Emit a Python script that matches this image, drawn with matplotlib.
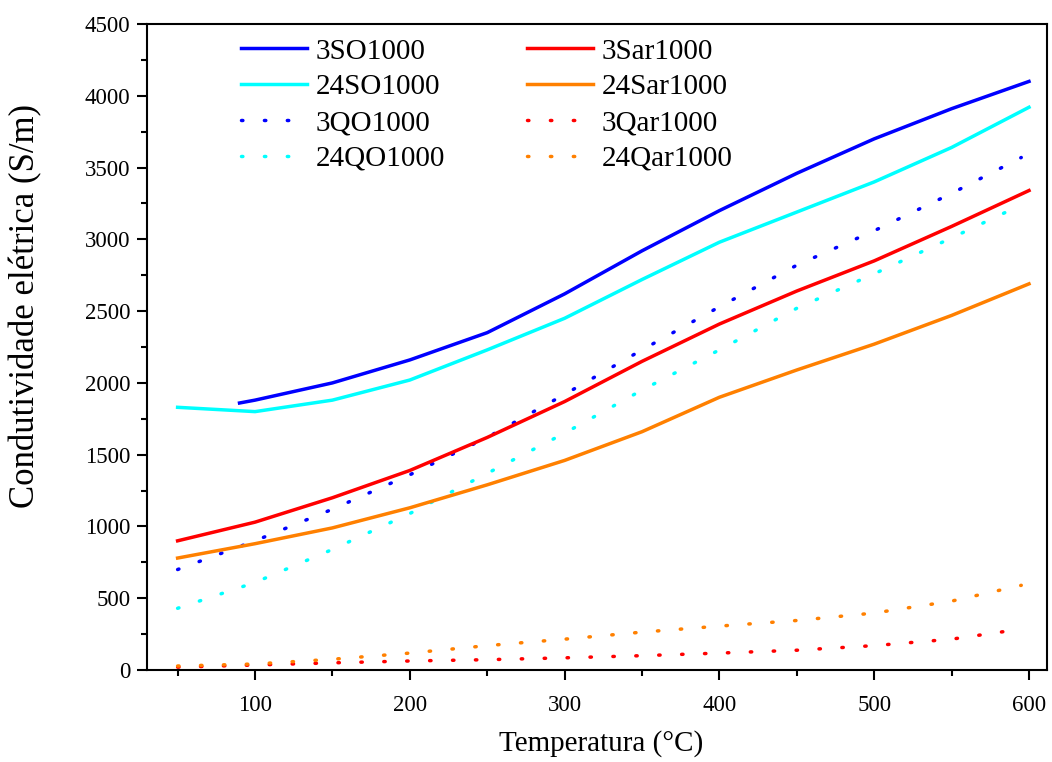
import numpy as np
import matplotlib.pyplot as plt
from matplotlib.ticker import MultipleLocator

plt.rcParams['font.family'] = ['Liberation Serif', 'DejaVu Serif']

# temperatura (°C)
t = [50, 100, 150, 200, 250, 300, 350, 400, 450, 500, 550, 600]
t_q = [50, 100, 150, 200, 250, 300, 350, 400, 450, 500, 550, 595]

t_3so = [90, 100, 150, 200, 250, 300, 350, 400, 450, 500, 550, 600]
s_3so = [1860, 1880, 2000, 2160, 2350, 2620, 2920, 3200, 3460, 3700, 3910, 4100]

s_24so = [1830, 1800, 1880, 2020, 2230, 2450, 2720, 2980, 3190, 3400, 3640, 3920]
s_3sar = [900, 1030, 1200, 1390, 1620, 1870, 2150, 2410, 2640, 2850, 3090, 3340]
s_24sar = [780, 880, 990, 1130, 1290, 1460, 1660, 1900, 2090, 2270, 2470, 2690]

q_3qo = [700, 900, 1120, 1360, 1620, 1920, 2230, 2530, 2820, 3060, 3320, 3570]
q_24qo = [430, 610, 840, 1090, 1370, 1650, 1950, 2230, 2520, 2760, 3010, 3240]
q_3qar = [20, 35, 50, 63, 72, 85, 100, 118, 138, 170, 215, 285]
q_24qar = [28, 42, 75, 118, 170, 215, 264, 306, 345, 397, 480, 590]

fig = plt.figure(figsize=(10.52, 7.62), dpi=100)
ax = fig.add_axes([0.1397, 0.1207, 0.8555, 0.8478])

dot = (0, (0.4, 6.2))
kw_dot = dict(lw=2.5, ls=dot, dash_capstyle='round')
# legend is filled column by column: oxygen first, then air
ax.plot(t_3so, s_3so, c='#0000ff', lw=2.5, label='3SO1000')
ax.plot(t, s_24so, c='#00ffff', lw=2.5, label='24SO1000')
ax.plot(t_q, q_3qo, c='#0000ff', label='3QO1000', **kw_dot)
ax.plot(t_q, q_24qo, c='#00ffff', label='24QO1000', **kw_dot)
ax.plot(t, s_3sar, c='#ff0000', lw=2.5, label='3Sar1000')
ax.plot(t, s_24sar, c='#ff8000', lw=2.5, label='24Sar1000')
ax.plot(t_q, q_3qar, c='#ff0000', label='3Qar1000', **kw_dot)
ax.plot(t_q, q_24qar, c='#ff8000', label='24Qar1000', **kw_dot)

ax.set_xlim(30.2, 611.6)
ax.set_ylim(0, 4500)
ax.xaxis.set_major_locator(MultipleLocator(100))
ax.xaxis.set_minor_locator(MultipleLocator(50))
ax.yaxis.set_major_locator(MultipleLocator(500))
ax.yaxis.set_minor_locator(MultipleLocator(250))
ax.tick_params(which='major', direction='out', length=7, width=1.5, labelsize=16.5)
ax.tick_params(which='minor', direction='out', length=4, width=1.5)
ax.tick_params(axis='x', which='major', pad=11)
ax.tick_params(axis='y', which='major', pad=5)
for s in ax.spines.values():
    s.set_linewidth(1.5)

ax.set_xlabel('Temperatura (°C)', fontsize=21)
ax.xaxis.set_label_coords(0.505, -0.093)
ax.set_ylabel('Condutividade elétrica (S/m)', fontsize=25)
ax.yaxis.set_label_coords(-0.116, 0.563)

ax.legend(ncol=2, frameon=False, fontsize=21, loc='upper left',
          bbox_to_anchor=(0.105, 0.978), borderaxespad=0, borderpad=0,
          handlelength=2.25, handletextpad=0.3, columnspacing=2.8,
          labelspacing=0.32)

plt.savefig('out.png')
